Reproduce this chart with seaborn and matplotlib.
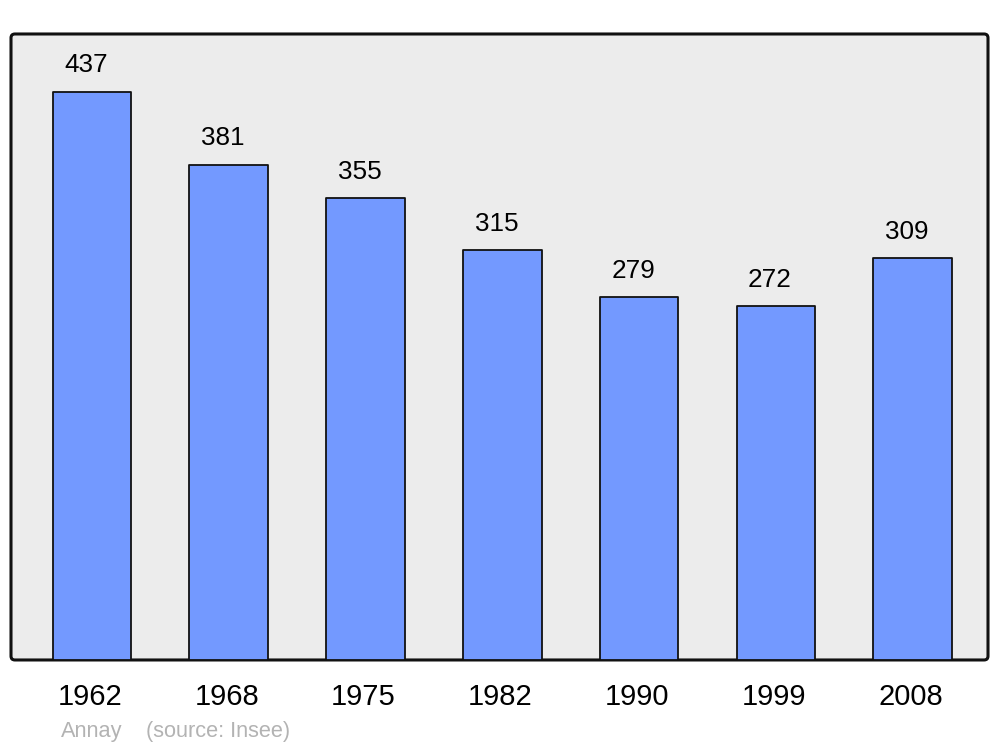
import matplotlib
matplotlib.use("Agg")
import matplotlib.pyplot as plt
import matplotlib.transforms as mtrans
import seaborn as sns
import pandas as pd
from matplotlib.patches import FancyBboxPatch

years = ["1962", "1968", "1975", "1982", "1990", "1999", "2008"]
population = [437, 381, 355, 315, 279, 272, 309]
source_name = "Annay"
source_text = "(source: Insee)"

sns.set_theme(style="white")
plt.rcParams["font.family"] = ["Liberation Sans", "DejaVu Sans"]

df = pd.DataFrame({"year": years, "pop": population})

fig = plt.figure(figsize=(10, 7.47), dpi=100)
ax = fig.add_axes([0.011, 0.1165, 0.977, 0.838])
ax.set_facecolor("none")

# rounded background frame
frame = FancyBboxPatch((0, 0), 1, 1, boxstyle="round,pad=0,rounding_size=0.004",
                       transform=ax.transAxes, facecolor="#ececec", edgecolor="#111111",
                       linewidth=2.2, zorder=0, clip_on=False, mutation_aspect=977/626)
ax.add_patch(frame)

sns.barplot(data=df, x="year", y="pop", ax=ax, color="#7399ff", saturation=1,
            width=0.575, edgecolor="#111111", linewidth=1.3, zorder=2)
for p in ax.patches:
    if isinstance(p, FancyBboxPatch):
        continue
    p.set_joinstyle("round")

for i, v in enumerate(population):
    ax.annotate(str(v), xy=(i, v), xytext=(-4.3, 14), textcoords="offset points",
                ha="center", va="baseline", fontsize=18.8, color="black")

ax.set_xlim(-0.592, 6.55)
ax.set_ylim(0, 481.5)
for s in ax.spines.values():
    s.set_visible(False)
ax.set_yticks([])
ax.set_xlabel("")
ax.set_ylabel("")
ax.tick_params(axis="x", length=0, pad=16.5, labelsize=21, colors="black")
shift = mtrans.ScaledTranslation(-2 / 100, 0, fig.dpi_scale_trans)
for lbl in ax.get_xticklabels():
    lbl.set_transform(lbl.get_transform() + shift)

fig.text(0.061, 1 - 737/747, source_name, fontsize=15.7, color="#b3b3b3", va="baseline", ha="left")
fig.text(0.146, 1 - 737/747, source_text, fontsize=15.7, color="#b3b3b3", va="baseline", ha="left")

fig.savefig("out.png", dpi=100, facecolor="white")
